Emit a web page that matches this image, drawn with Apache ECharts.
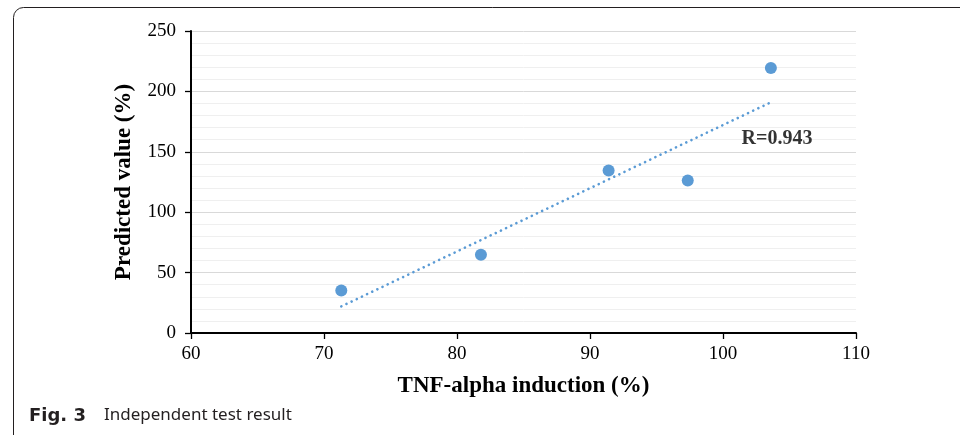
<!DOCTYPE html>
<html>
<head>
<meta charset="utf-8">
<script src="https://cdn.jsdelivr.net/npm/echarts@6/dist/echarts.min.js"></script>
<style>
html,body{margin:0;padding:0;background:#fff;}
#chart{width:960px;height:435px;}
</style>
</head>
<body>
<div id="chart"></div>
<script>
// Data
const tnfInduction = [71.3, 81.8, 91.4, 97.35, 103.6];
const predictedValue = [35.2, 64.7, 134.5, 126.2, 219.4];
// Trendline endpoints (as drawn in the figure)
const trendX = [71.3, 103.6];
const trendY = [22.0, 191.0];
const rLabel = 'R=0.943';
const rLabelAt = [101.4, 160.5];
const xTicks = [60, 70, 80, 90, 100, 110];
const yTicks = [0, 50, 100, 150, 200, 250];

const serif = "'Liberation Serif', 'Times New Roman', serif";
const blue = '#5b9bd5';

const chart = echarts.init(document.getElementById('chart'), null, {renderer: 'canvas'});

const option = {
  animation: false,
  backgroundColor: '#fff',
  grid: {left: 191, right: 104, top: 31, bottom: 102, containLabel: false},
  xAxis: {
    type: 'value',
    min: xTicks[0], max: xTicks[xTicks.length - 1], interval: 10,
    name: 'TNF-alpha induction (%)',
    nameLocation: 'middle',
    nameGap: 42,
    nameTextStyle: {fontFamily: serif, fontWeight: 'bold', fontSize: 23, color: '#000'},
    axisLine: {show: true, onZero: false, lineStyle: {color: '#000', width: 2}},
    axisTick: {show: true, inside: false, length: 6, lineStyle: {color: '#000', width: 1.3}},
    axisLabel: {fontFamily: serif, fontSize: 19, color: '#000', margin: 12},
    splitLine: {show: false}
  },
  yAxis: {
    type: 'value',
    min: yTicks[0], max: yTicks[yTicks.length - 1], interval: 50,
    name: 'Predicted value (%)',
    nameLocation: 'middle',
    nameGap: 55,
    nameTextStyle: {fontFamily: serif, fontWeight: 'bold', fontSize: 23, color: '#000'},
    axisLine: {show: true, onZero: false, lineStyle: {color: '#000', width: 2}},
    axisTick: {show: true, inside: false, length: 6, lineStyle: {color: '#000', width: 1.3}},
    axisLabel: {fontFamily: serif, fontSize: 19, color: '#000', margin: 15},
    splitLine: {show: true, lineStyle: {color: '#d9d9d9', width: 1}},
    minorTick: {show: false, splitNumber: 5},
    minorSplitLine: {show: true, lineStyle: {color: '#efefef', width: 1}}
  },
  series: [
    {
      type: 'line',
      data: trendX.map((x, i) => [x, trendY[i]]),
      symbol: 'none',
      lineStyle: {color: blue, width: 2.6, type: [0.1, 5.6], cap: 'round'},
      z: 2
    },
    {
      type: 'scatter',
      data: tnfInduction.map((x, i) => [x, predictedValue[i]]),
      symbol: 'circle',
      symbolSize: 12,
      itemStyle: {color: blue, opacity: 1},
      z: 3
    },
    {
      type: 'scatter',
      data: [rLabelAt],
      symbolSize: 0,
      silent: true,
      label: {
        show: true, position: 'right', distance: 0,
        formatter: rLabel,
        fontFamily: serif, fontWeight: 'bold', fontSize: 20, color: '#000'
      },
      z: 4
    }
  ],
  graphic: [
    {
      type: 'rect',
      shape: {x: 13.5, y: 7.5, width: 1200, height: 800, r: [10, 0, 0, 0]},
      style: {stroke: '#231f20', lineWidth: 1, fill: null},
      silent: true,
      z: -1
    },
    {
      type: 'text',
      left: 29, top: 407,
      style: {
        text: 'Fig. 3',
        font: "bold 18px 'DejaVu Sans', sans-serif",
        fill: '#231f20'
      },
      silent: true
    },
    {
      type: 'text',
      left: 104, top: 407,
      style: {
        text: 'Independent test result',
        font: "normal 17px 'Noto Sans', 'Open Sans', sans-serif",
        fill: '#231f20'
      },
      silent: true
    }
  ]
};
chart.setOption(option);
</script>
</body>
</html>
